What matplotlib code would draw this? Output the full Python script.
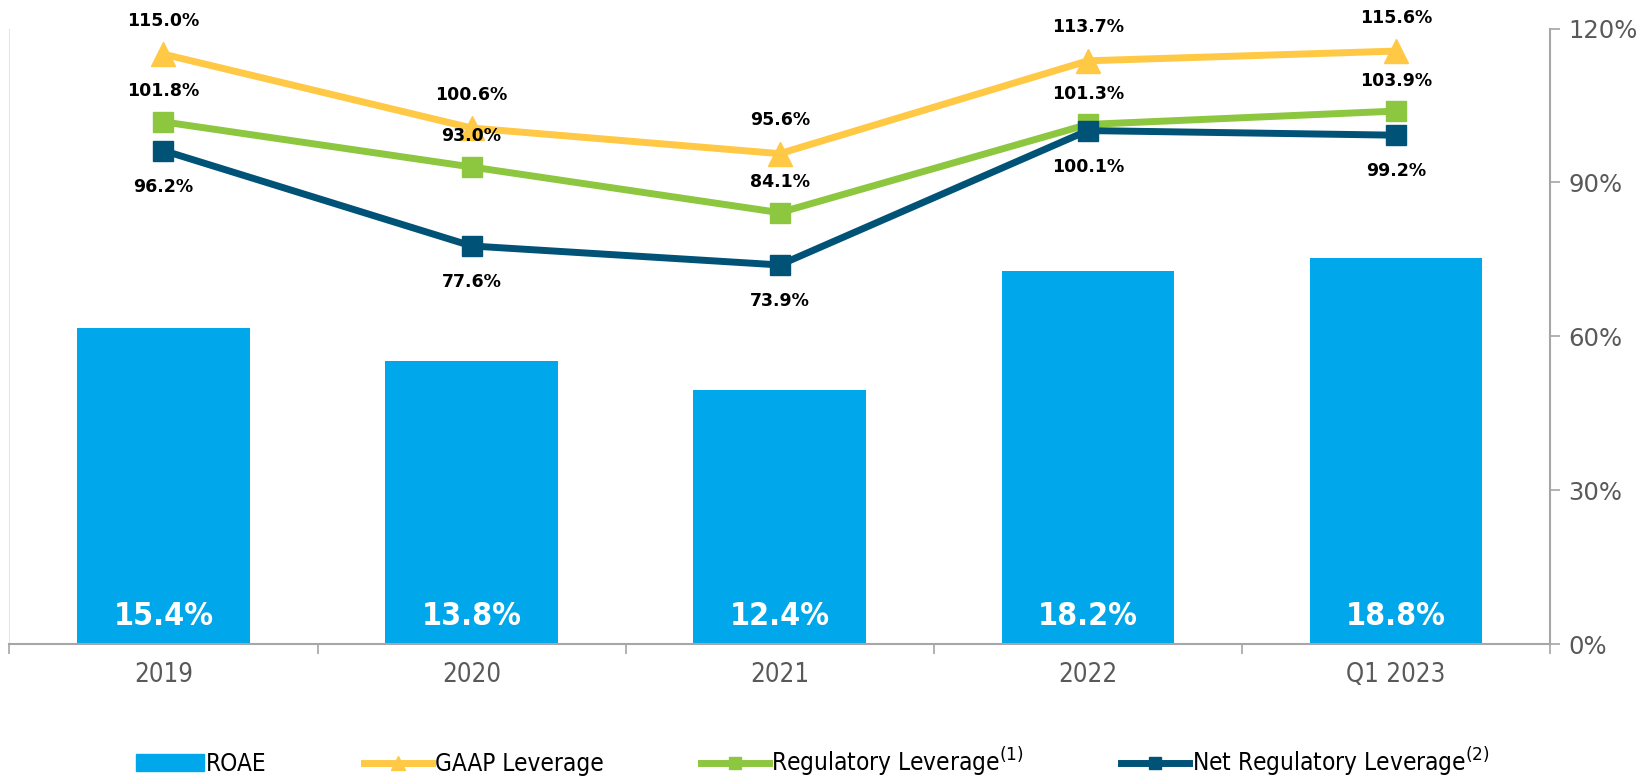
import numpy as np
import matplotlib
matplotlib.use("Agg")
import matplotlib.pyplot as plt
from matplotlib.lines import Line2D
from matplotlib.patches import Patch

categories = ["2019", "2020", "2021", "2022", "Q1 2023"]
roae = [15.4, 13.8, 12.4, 18.2, 18.8]
gaap_leverage = [115.0, 100.6, 95.6, 113.7, 115.6]
regulatory_leverage = [101.8, 93.0, 84.1, 101.3, 103.9]
net_regulatory_leverage = [96.2, 77.6, 73.9, 100.1, 99.2]
right_ticks = [0, 30, 60, 90, 120]

bar_color = "#00A7EA"
gaap_color = "#FFC845"
reg_color = "#8DC63F"
net_color = "#005376"
gray = "#595959"

plt.rcParams["font.family"] = ["DejaVu Sans"]

fig = plt.figure(figsize=(16.45, 7.80), dpi=100)
ax = fig.add_axes([9.4 / 1645, 1 - 644 / 780, (1550 - 9.4) / 1645, (644 - 28.5) / 780])
x = np.arange(len(categories))

# bars on a hidden left axis (0-30%)
ax.bar(x, roae, width=0.56, color=bar_color, zorder=2)
ax.set_ylim(0, 30)
ax.set_xlim(-0.5, len(categories) - 0.5)
for xi, v in zip(x, roae):
    ax.text(xi, 1.35, f"{v:.1f}%", ha="center", va="center", color="white",
            fontsize=23, fontweight="bold", fontstretch="condensed")

ax.set_yticks([])
ax.set_xticks(x)
ax.set_xticklabels(categories, fontsize=18.5, color=gray, fontstretch="condensed")
ax.set_xticks(np.arange(-0.5, len(categories), 1), minor=True)
ax.tick_params(axis="x", which="major", length=0, pad=13)
ax.tick_params(axis="x", which="minor", length=7, color="#A6A6A6", width=1.2)
ax.spines["top"].set_visible(False)
ax.spines["right"].set_visible(False)
ax.spines["left"].set_color("#E6E6E6")
ax.spines["bottom"].set_color("#A6A6A6")
ax.spines["bottom"].set_linewidth(1.5)

# leverage lines on the right axis (0-120%)
ax2 = ax.twinx()
ax2.plot(x, gaap_leverage, color=gaap_color, lw=5, marker="^", ms=17, zorder=3)
ax2.plot(x, regulatory_leverage, color=reg_color, lw=5, marker="s", ms=14, zorder=4)
ax2.plot(x, net_regulatory_leverage, color=net_color, lw=5, marker="s", ms=14, zorder=5)
ax2.set_ylim(0, 120)
ax2.set_yticks(right_ticks)
ax2.set_yticklabels([f"{t}%" for t in right_ticks], fontsize=17.5, color=gray)
ax2.tick_params(axis="y", length=7, color="#A6A6A6", width=1.2, pad=6)
for s in ["top", "left", "bottom"]:
    ax2.spines[s].set_visible(False)
ax2.spines["right"].set_color("#A6A6A6")
ax2.spines["right"].set_linewidth(1.5)

lab = dict(ha="center", va="center", fontsize=12.5, fontweight="bold", color="black",
           textcoords="offset points", zorder=6)
for xi, v in zip(x, gaap_leverage):
    ax2.annotate(f"{v:.1f}%", (xi, v), xytext=(0, 24), **lab)
for xi, v in zip(x, regulatory_leverage):
    ax2.annotate(f"{v:.1f}%", (xi, v), xytext=(0, 22), **lab)
for xi, v in zip(x, net_regulatory_leverage):
    ax2.annotate(f"{v:.1f}%", (xi, v), xytext=(0, -26), **lab)

handles = [
    Patch(color=bar_color),
    Line2D([], [], color=gaap_color, lw=5, marker="^", ms=10),
    Line2D([], [], color=reg_color, lw=5, marker="s", ms=9),
    Line2D([], [], color=net_color, lw=5, marker="s", ms=9),
]
labels = ["ROAE", "GAAP Leverage", r"Regulatory Leverage$^{(1)}$",
          r"Net Regulatory Leverage$^{(2)}$"]
fig.legend(handles, labels, loc="center", bbox_to_anchor=(0.494, 1 - 762 / 780), ncol=4,
           frameon=False, handlelength=2.8, handleheight=0.7, handletextpad=0.1,
           columnspacing=4.0, prop={"size": 17.5, "stretch": "condensed"})

fig.savefig("out.png", dpi=100)
